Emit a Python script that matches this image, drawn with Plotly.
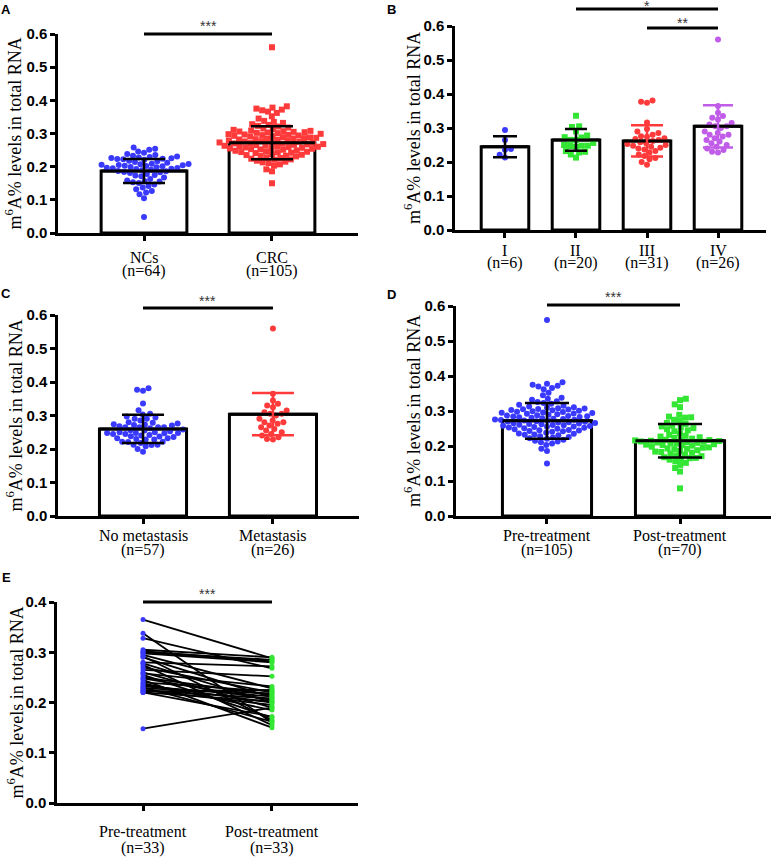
"""m6A levels in total RNA: five-panel scatter-dot / bar figure (A-E)."""

import numpy as np
import plotly.graph_objects as go

W, H = 772, 858

# ---------------------------------------------------------------------------
# Data (m6A % in total RNA)
# ---------------------------------------------------------------------------
nc_vals = [
    0.258, 0.254, 0.251, 0.246, 0.242,
    0.238, 0.235, 0.233, 0.231,
    0.229, 0.228, 0.226, 0.225, 0.224, 0.223, 0.222, 0.221,
    0.218, 0.216, 0.214, 0.212,
    0.209, 0.208, 0.207, 0.206, 0.205, 0.204, 0.203, 0.202, 0.201,
    0.199, 0.198, 0.197, 0.196, 0.195, 0.194, 0.193, 0.191,
    0.189, 0.187, 0.186, 0.184, 0.183, 0.181,
    0.178, 0.175, 0.173, 0.171,
    0.167, 0.163,
    0.158, 0.156, 0.155, 0.153, 0.151,
    0.146, 0.142, 0.137, 0.132, 0.127, 0.122, 0.117, 0.105, 0.048,
]

crc_vals = [
    0.560,
    0.382, 0.378, 0.375, 0.372, 0.370, 0.366, 0.362, 0.352, 0.345,
    0.338, 0.335, 0.332, 0.328, 0.326, 0.323, 0.321, 0.318, 0.315, 0.313, 0.311,
    0.309, 0.308, 0.307, 0.306, 0.305, 0.304, 0.303, 0.302, 0.301,
    0.299, 0.298, 0.297, 0.296, 0.295, 0.294, 0.293, 0.292, 0.291,
    0.289, 0.288, 0.287, 0.286, 0.285, 0.284, 0.283, 0.282, 0.281,
    0.279, 0.278, 0.277, 0.276, 0.275, 0.274, 0.273, 0.272, 0.271, 0.270,
    0.269, 0.268, 0.267, 0.266, 0.265, 0.264, 0.263, 0.262, 0.261, 0.260,
    0.259, 0.258, 0.257, 0.256, 0.255, 0.254, 0.253, 0.252, 0.251,
    0.249, 0.248, 0.246, 0.245, 0.244, 0.243, 0.242, 0.241,
    0.238, 0.236, 0.235, 0.233, 0.232, 0.231,
    0.228, 0.226, 0.224, 0.222, 0.221,
    0.218, 0.215, 0.213, 0.211,
    0.207, 0.203, 0.192, 0.186, 0.150,
]

stage_i_vals = [0.294, 0.265, 0.238, 0.236, 0.221, 0.213]
stage_ii_vals = [
    0.336, 0.305, 0.303, 0.290, 0.278, 0.273, 0.272, 0.265, 0.265, 0.256,
    0.250, 0.248, 0.248, 0.247, 0.245, 0.232, 0.230, 0.228, 0.222, 0.213,
]
stage_iii_vals = [
    0.381, 0.377, 0.374, 0.316, 0.297, 0.290, 0.285, 0.280, 0.276, 0.274,
    0.270, 0.268, 0.265, 0.262, 0.258, 0.255, 0.253, 0.250, 0.248, 0.245,
    0.242, 0.240, 0.237, 0.232, 0.228, 0.222, 0.218, 0.212, 0.208, 0.200,
    0.192,
]
stage_iv_vals = [
    0.560, 0.365, 0.345, 0.335, 0.330, 0.325, 0.315, 0.310, 0.305, 0.305,
    0.300, 0.290, 0.285, 0.280, 0.280, 0.275, 0.270, 0.265, 0.260, 0.255,
    0.250, 0.245, 0.240, 0.235, 0.230, 0.228,
]

post_vals = [
    0.335, 0.331, 0.319, 0.311,
    0.289, 0.284, 0.282, 0.281, 0.275, 0.272, 0.266, 0.263,
    0.258, 0.256, 0.253, 0.251, 0.248, 0.245, 0.242, 0.236, 0.232,
    0.229, 0.227, 0.225, 0.223, 0.221,
    0.219, 0.218, 0.217, 0.216, 0.215, 0.214, 0.213, 0.212, 0.211, 0.210,
    0.209, 0.208, 0.207, 0.205, 0.204, 0.203, 0.202, 0.201,
    0.198, 0.196, 0.195, 0.193, 0.192, 0.191,
    0.188, 0.186, 0.184, 0.183, 0.181,
    0.178, 0.176, 0.173, 0.171,
    0.168, 0.166, 0.165, 0.163, 0.161,
    0.156, 0.152, 0.146, 0.137, 0.127, 0.079,
]

paired_pre = [
    0.365, 0.338, 0.328, 0.305, 0.302, 0.300, 0.298, 0.295, 0.292, 0.290, 0.280,
    0.278, 0.275, 0.270, 0.265, 0.260, 0.258, 0.255, 0.250, 0.248, 0.245, 0.240,
    0.238, 0.235, 0.232, 0.230, 0.228, 0.225, 0.224, 0.222, 0.220, 0.220, 0.148,
]
paired_post = [
    0.288, 0.160, 0.268, 0.290, 0.282, 0.285, 0.280, 0.228, 0.165, 0.210, 0.272,
    0.200, 0.155, 0.220, 0.252, 0.190, 0.232, 0.170, 0.215, 0.205, 0.150, 0.222,
    0.185, 0.200, 0.212, 0.162, 0.218, 0.195, 0.208, 0.225, 0.172, 0.202, 0.190,
]

# bar heights (mean) and SD whiskers as drawn
a_means, a_sd = [0.187, 0.272], [0.036, 0.050]
b_means, b_sd = [0.245, 0.265, 0.262, 0.305], [0.031, 0.032, 0.046, 0.062]
c_means, c_sd = [0.260, 0.304], [0.042, 0.063]
d_means, d_sd = [0.272, 0.215], [0.051, 0.048]

a_labels, a_n = ["NCs", "CRC"], ["(n=64)", "(n=105)"]
b_labels, b_n = ["I", "II", "III", "IV"], ["(n=6)", "(n=20)", "(n=31)", "(n=26)"]
c_labels, c_n = ["No metastasis", "Metastasis"], ["(n=57)", "(n=26)"]
d_labels, d_n = ["Pre-treatment", "Post-treatment"], ["(n=105)", "(n=70)"]
e_labels, e_n = ["Pre-treatment", "Post-treatment"], ["(n=33)", "(n=33)"]

# ---------------------------------------------------------------------------
# Styling / geometry
# ---------------------------------------------------------------------------
BLUE, RED, GREEN, PURPLE = "#3a3aff", "#ff3a3a", "#33e633", "#c05ce8"
SERIF, SANS = "Liberation Serif", "Liberation Sans"
BAR_W = 0.67
Y_TITLE = "m<sup>6</sup>A% levels in total RNA"

# pixel box (left, right, top, bottom) of each plot area, x range, y max
PANELS = {
    "A": dict(ax="", box=(58, 358, 34, 233), xr=(-0.672, 1.672), ymax=0.6),
    "B": dict(ax="2", box=(455, 766, 26, 230), xr=(-0.704, 3.676), ymax=0.6),
    "C": dict(ax="3", box=(58, 359, 315, 516), xr=(-0.654, 1.662), ymax=0.6),
    "D": dict(ax="4", box=(456, 771, 306, 516), xr=(-0.684, 1.684), ymax=0.6),
    "E": dict(ax="5", box=(57, 358, 602, 803), xr=(-0.667, 1.667), ymax=0.4),
}


def swarm(vals, kx, ky, diam):
    """Beeswarm x-offsets (data units) so that dots of `diam` px don't overlap."""
    vals = np.asarray(vals, dtype=float)
    placed = []
    offs = np.zeros(len(vals))
    for i in np.argsort(vals):
        y = vals[i] * ky
        cands = [0.0]
        for px, py in placed:
            dy = abs(py - y)
            if dy < diam:
                dx = np.sqrt(diam ** 2 - dy ** 2)
                cands += [px + dx, px - dx]
        cands.sort(key=lambda c: (round(abs(c), 3), c))
        for c in cands:
            if all((c - px) ** 2 + (y - py) ** 2 >= diam ** 2 - 1e-6 for px, py in placed):
                break
        placed.append((c, y))
        offs[i] = c / kx
    return offs


def scales(panel):
    p = PANELS[panel]
    x0, x1, y0, y1 = p["box"]
    return (x1 - x0) / (p["xr"][1] - p["xr"][0]), (y1 - y0) / p["ymax"]


def axes_of(panel):
    a = PANELS[panel]["ax"]
    return "x" + a, "y" + a


fig = go.Figure()


def add_bars(panel, means):
    xa, ya = axes_of(panel)
    fig.add_trace(go.Bar(
        x=list(range(len(means))), y=means, width=BAR_W,
        marker=dict(color="white", line=dict(color="black", width=3)),
        xaxis=xa, yaxis=ya, hoverinfo="skip",
    ))


def add_dots(panel, xc, vals, color, symbol="circle", size=6):
    xa, ya = axes_of(panel)
    kx, ky = scales(panel)
    offs = swarm(vals, kx, ky, size)
    fig.add_trace(go.Scatter(
        x=xc + offs, y=vals, mode="markers",
        marker=dict(color=color, symbol=symbol, size=size, line_width=0),
        xaxis=xa, yaxis=ya, cliponaxis=False,
    ))


def add_mean_err(panel, means, sds, colors, half_caps):
    xa, ya = axes_of(panel)
    for i, (m, s, col, hw) in enumerate(zip(means, sds, colors, half_caps)):
        fig.add_trace(go.Scatter(
            x=[i - BAR_W / 2, i + BAR_W / 2], y=[m, m], mode="lines",
            line=dict(color="black", width=3), xaxis=xa, yaxis=ya, hoverinfo="skip",
        ))
        fig.add_trace(go.Scatter(
            x=[i], y=[m], mode="markers", marker=dict(size=1, opacity=0),
            error_y=dict(type="data", array=[s], color=col, thickness=2.5, width=hw),
            xaxis=xa, yaxis=ya, cliponaxis=False,
        ))


# Panel A
add_bars("A", a_means)
add_dots("A", 0, nc_vals, BLUE)
add_dots("A", 1, crc_vals, RED, "square")
add_mean_err("A", a_means, a_sd, ["black", "black"], [21, 21])

# Panel B
add_bars("B", b_means)
add_dots("B", 0, stage_i_vals, BLUE)
add_dots("B", 1, stage_ii_vals, GREEN, "square")
add_dots("B", 2, stage_iii_vals, RED)
add_dots("B", 3, stage_iv_vals, PURPLE)
add_mean_err("B", b_means, b_sd, ["black", "black", RED, PURPLE], [12, 11, 16, 15])

# Panel C (no metastasis = stages I-III, metastasis = stage IV)
add_bars("C", c_means)
add_dots("C", 0, stage_i_vals + stage_ii_vals + stage_iii_vals, BLUE)
add_dots("C", 1, stage_iv_vals, RED)
add_mean_err("C", c_means, c_sd, ["black", RED], [21, 21])

# Panel D
add_bars("D", d_means)
add_dots("D", 0, crc_vals, BLUE)
add_dots("D", 1, post_vals, GREEN, "square")
add_mean_err("D", d_means, d_sd, ["black", "black"], [22, 22])

# Panel E: paired lines
xs, ys = [], []
for a, b in zip(paired_pre, paired_post):
    xs += [0, 1, None]
    ys += [a, b, None]
fig.add_trace(go.Scatter(x=xs, y=ys, mode="lines", line=dict(color="black", width=1.8),
                         xaxis="x5", yaxis="y5", hoverinfo="skip"))
fig.add_trace(go.Scatter(x=[0] * len(paired_pre), y=paired_pre, mode="markers",
                         marker=dict(color=BLUE, size=5), xaxis="x5", yaxis="y5", cliponaxis=False))
fig.add_trace(go.Scatter(x=[1] * len(paired_post), y=paired_post, mode="markers",
                         marker=dict(color=GREEN, size=5), xaxis="x5", yaxis="y5", cliponaxis=False))

# ---------------------------------------------------------------------------
# Axes
# ---------------------------------------------------------------------------
line_style = dict(showline=True, linecolor="black", linewidth=2.5, ticks="outside",
                  ticklen=5, tickwidth=2.5, tickcolor="black", showgrid=False,
                  zeroline=False, fixedrange=True, automargin=False)
layout_axes = {}
for name, p in PANELS.items():
    x0, x1, y0, y1 = p["box"]
    a = p["ax"]
    ncat = {"A": 2, "B": 4, "C": 2, "D": 2, "E": 2}[name]
    layout_axes["xaxis" + a] = dict(
        line_style, domain=[x0 / W, x1 / W], range=list(p["xr"]),
        tickvals=list(range(ncat)), showticklabels=False, anchor="y" + a,
    )
    layout_axes["yaxis" + a] = dict(
        line_style, domain=[1 - y1 / H, 1 - y0 / H], range=[0, p["ymax"]],
        tickvals=list(np.round(np.arange(0, p["ymax"] + 1e-9, 0.1), 1)),
        tickformat=".1f", anchor="x" + a,
        tickfont=dict(family=SANS, size=15, color="black", weight="bold"),
    )

fig.update_layout(
    template="none", width=W, height=H, autosize=False,
    margin=dict(l=0, r=0, t=0, b=0, pad=0),
    paper_bgcolor="white", plot_bgcolor="white", showlegend=False,
    barmode="overlay", hovermode=False, **layout_axes,
)

# ---------------------------------------------------------------------------
# Text and significance bars
# ---------------------------------------------------------------------------


def paper_text(text, x, y, size, family=SERIF, angle=0, bold=False, color="black", xref="paper"):
    fig.add_annotation(
        text=text, x=x if xref != "paper" else x / W, y=1 - y / H, xref=xref, yref="paper",
        showarrow=False, textangle=angle, xanchor="center", yanchor="middle", borderpad=0,
        font=dict(family=family, size=size, color=color, weight="bold" if bold else "normal"),
    )


def cat_labels(panel, names, ns, y_name, y_n):
    xa, _ = axes_of(panel)
    for i, (nm, n) in enumerate(zip(names, ns)):
        paper_text(nm, i, y_name, 16, xref=xa)
        paper_text(n, i, y_n, 16, xref=xa)


cat_labels("A", a_labels, a_n, 257, 271)
cat_labels("B", b_labels, b_n, 250, 263)
cat_labels("C", c_labels, c_n, 535, 550)
cat_labels("D", d_labels, d_n, 535, 550)
cat_labels("E", e_labels, e_n, 831, 848)

for x, (y0, y1) in [(14, (34, 233)), (412, (26, 230)), (15, (315, 516)),
                    (413, (306, 516)), (16, (602, 803))]:
    paper_text(Y_TITLE, x, (y0 + y1) / 2, 18, angle=-90)

for letter, x, y in [("A", 6, 9), ("B", 391, 9), ("C", 6, 293), ("D", 391, 294), ("E", 6, 577)]:
    paper_text(letter, x, y, 13, family=SANS, bold=True)

# significance lines: (panel, from category, to category, y px, stars, star y px)
sig = [("A", 0, 1, 34, "***", 26), ("B", 1, 3, 9, "*", 6), ("B", 2, 3, 28, "**", 23),
       ("C", 0, 1, 308, "***", 301), ("D", 0, 1, 305, "***", 297), ("E", 0, 1, 602, "***", 594)]
for panel, c0, c1, y, stars, ys in sig:
    xa, _ = axes_of(panel)
    fig.add_shape(type="line", xref=xa, yref="paper", x0=c0, x1=c1,
                  y0=1 - y / H, y1=1 - y / H, line=dict(color="black", width=3))
    paper_text(stars, (c0 + c1) / 2, ys, 14, family=SANS, color="#333333", xref=xa)

# the page's default 8px body margin would push the 772x858 figure out of the window
fig.write_html("out.html", config={"displayModeBar": False},
               post_script="document.body.style.margin='0';")
